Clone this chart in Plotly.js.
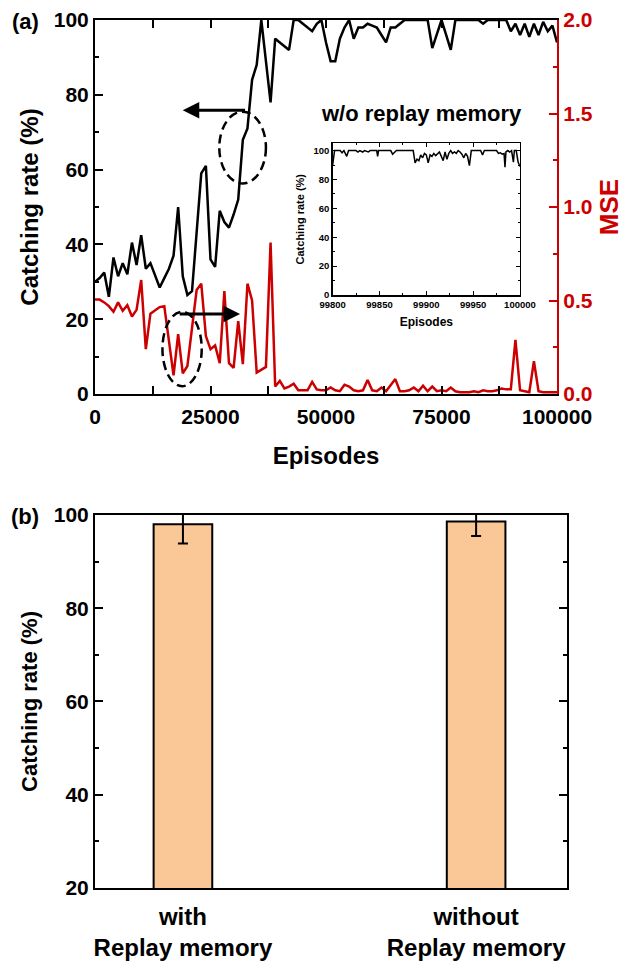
<!DOCTYPE html>
<html><head><meta charset="utf-8">
<script src="https://cdn.plot.ly/plotly-3.0.1.min.js"></script>
<style>html,body{margin:0;padding:0;background:#fff}#chart{width:627px;height:962px}</style>
</head><body><div id="chart"></div>
<script>
const episodes = [0,1000,2000,3000,4000,5000,6000,7000,8000,9000,10000,11000,12000,13000,14000,15000,16000,17000,18000,19000,20000,21000,22000,23000,24000,25000,26000,27000,28000,29000,30000,31000,32000,33000,34000,35000,36000,37000,38000,39000,40000,41000,42000,43000,44000,45000,46000,47000,48000,49000,50000,51000,52000,53000,54000,55000,56000,57000,58000,59000,60000,61000,62000,63000,64000,65000,66000,67000,68000,69000,70000,71000,72000,73000,74000,75000,76000,77000,78000,79000,80000,81000,82000,83000,84000,85000,86000,87000,88000,89000,90000,91000,92000,93000,94000,95000,96000,97000,98000,99000,100000];
const catchingRate = [30,31,32.5,26,36.5,31.5,35,32,40.5,34.5,42.5,33.5,35,31.5,28.5,31,33.5,37,50,31.5,26.5,27.5,43,59,61,36,34,49,46,44.5,48,52,68,71,84,88,100,89,78,95,94,93,92,100,100,99,98,97,99,100,94,89,89,95,98,100,95,98,98,99,98.5,98,96,94,98,98,99,100,100,100,100,100,100,92.5,96,100,96,92,100,100,100,100,100,100,99,100,100,100,100,100,97,99,96,99,95.5,99,96,99.5,97,98.5,94];
const mse = [0.505,0.505,0.49,0.47,0.44,0.49,0.445,0.475,0.415,0.45,0.61,0.24,0.43,0.45,0.465,0.47,0.29,0.10,0.32,0.11,0.15,0.35,0.556,0.59,0.31,0.24,0.26,0.165,0.55,0.165,0.14,0.39,0.16,0.59,0.50,0.115,0.13,0.145,0.81,0.04,0.07,0.03,0.04,0.055,0.02,0.02,0.02,0.065,0.025,0.02,0.02,0.035,0.02,0.015,0.05,0.04,0.02,0.015,0.02,0.075,0.02,0.015,0.035,0.015,0.05,0.08,0.015,0.015,0.02,0.035,0.015,0.045,0.015,0.04,0.015,0.02,0.015,0.035,0.015,0.01,0.01,0.01,0.015,0.01,0.02,0.015,0.015,0.02,0.03,0.025,0.025,0.29,0.02,0.015,0.01,0.175,0.015,0.01,0.01,0.01,0.01];

const insetEpisodes = [99800,99802,99808,99810,99812,99815,99817,99825,99827,99829,99832,99834,99838,99840,99847,99848,99849,99862,99864,99866,99868,99886,99888,99890,99892,99894,99896,99898,99900,99902,99904,99906,99908,99910,99912,99914,99916,99918,99920,99922,99924,99926,99928,99930,99932,99934,99936,99938,99940,99942,99944,99946,99948,99958,99960,99962,99975,99977,99979,99981,99983,99984,99985,99987,99989,99991,99993,99994,99996,99998,100000];
const insetRate = [90,100,100,98.5,100,96,100,100,99,100,99,100,99,100,100,96,100,100,97.5,98.5,100,100,91.5,94,93,97,95,98,97,91.5,97,96,98,96.5,97.5,99,96,93,99,94,98,100,98,99,98,100,99,97.5,95,98,96,89.5,100,100,97,100,100,98,98.5,97.5,98,88.5,99,100,99,100,92,100,100,92,89];

const barCategories = ['with<br>Replay memory','without<br>Replay memory'];
const barValues = [98.0, 98.6];
const barErrors = [4.1, 3.1];

const RED = '#cc0000';
const FONT = 'Liberation Sans, Arial, sans-serif';
const bold = (size, color) => ({family: FONT, size: size, color: color || '#000', weight: 'bold'});

const traces = [
  {x: episodes, y: catchingRate, type: 'scatter', mode: 'lines', xaxis: 'x', yaxis: 'y',
   line: {color: '#000', width: 2.5}, showlegend: false},
  {x: episodes, y: mse, type: 'scatter', mode: 'lines', xaxis: 'x', yaxis: 'y2',
   line: {color: RED, width: 2.5}, showlegend: false},
  {x: insetEpisodes, y: insetRate, type: 'scatter', mode: 'lines', xaxis: 'x3', yaxis: 'y3',
   line: {color: '#000', width: 1.5}, showlegend: false},
  {x: barCategories, y: barValues, type: 'bar', xaxis: 'x4', yaxis: 'y4', width: 0.2,
   marker: {color: '#fac897', line: {color: '#000', width: 2}},
   error_y: {type: 'data', array: barErrors, visible: true, color: '#000', thickness: 2, width: 5},
   showlegend: false}
];

const common = {showgrid: false, zeroline: false, showline: true, linecolor: '#000', linewidth: 2,
  ticks: 'inside', tickwidth: 2, tickcolor: '#000'};

const layout = {
  width: 627, height: 962,
  margin: {l: 0, r: 0, t: 0, b: 0},
  paper_bgcolor: '#fff', plot_bgcolor: 'rgba(0,0,0,0)',
  font: {family: FONT},
  xaxis: Object.assign({}, common, {
    domain: [0.1515, 0.8884], anchor: 'y', range: [0, 100000],
    tickvals: [0, 25000, 50000, 75000, 100000], tickformat: 'd', ticklen: 8,
    minor: {dtick: 12500, tick0: 0, ticks: 'inside', ticklen: 4, tickwidth: 2, tickcolor: '#000'},
    mirror: 'allticks', tickfont: bold(21), ticklabelstandoff: 3,
    title: {text: 'Episodes', font: bold(24), standoff: 20}
  }),
  yaxis: Object.assign({}, common, {
    domain: [0.5904, 0.9792], anchor: 'x', range: [0, 100], dtick: 20, ticklen: 8,
    minor: {dtick: 10, ticks: 'inside', ticklen: 4, tickwidth: 2, tickcolor: '#000'},
    tickfont: bold(21),
    title: {text: 'Catching rate (%)', font: bold(24), standoff: 8}
  }),
  yaxis2: Object.assign({}, common, {
    overlaying: 'y', side: 'right', anchor: 'x', range: [0, 2], dtick: 0.5, tickformat: '.1f',
    linecolor: RED, tickcolor: RED, ticklen: 8,
    minor: {dtick: 0.25, ticks: 'inside', ticklen: 4, tickwidth: 2, tickcolor: RED},
    tickfont: bold(21, RED),
    title: {text: 'MSE', font: bold(26, RED), standoff: 8}
  }),
  xaxis3: Object.assign({}, common, {
    domain: [0.5306, 0.8293], anchor: 'y3', range: [99800, 100000], linewidth: 1.5, tickwidth: 1.2,
    tickvals: [99800, 99850, 99900, 99950, 100000], tickformat: 'd', ticklen: 4,
    minor: {dtick: 25, tick0: 99800, ticks: 'inside', ticklen: 2, tickwidth: 1, tickcolor: '#000'},
    mirror: 'allticks', tickfont: bold(9.5),
    title: {text: 'Episodes', font: bold(12), standoff: 8}
  }),
  yaxis3: Object.assign({}, common, {
    domain: [0.6933, 0.8510], anchor: 'x3', range: [0, 105], linewidth: 1.5, tickwidth: 1.2,
    tickvals: [0, 20, 40, 60, 80, 100], ticklen: 4,
    minor: {dtick: 10, ticks: 'inside', ticklen: 2, tickwidth: 1, tickcolor: '#000'},
    mirror: 'allticks', tickfont: bold(9.5),
    title: {text: 'Catching rate (%)', font: bold(11), standoff: 6}
  }),
  xaxis4: Object.assign({}, common, {
    domain: [0.1515, 0.9043], anchor: 'y4', type: 'category', range: [-0.3, 1.31],
    ticks: '', mirror: true, tickfont: bold(24), ticklabelstandoff: 6
  }),
  yaxis4: Object.assign({}, common, {
    domain: [0.0769, 0.4647], anchor: 'x4', range: [20, 100], dtick: 20, ticklen: 8,
    minor: {dtick: 10, ticks: 'inside', ticklen: 4, tickwidth: 2, tickcolor: '#000'},
    mirror: 'allticks', tickfont: bold(21),
    title: {text: 'Catching rate (%)', font: bold(22), standoff: 10}
  }),
  shapes: [
    {type: 'circle', xref: 'x', yref: 'y', x0: 26900, x1: 37000, y0: 56.3, y1: 75.5,
     line: {color: '#000', width: 2.5, dash: '9px,5px'}},
    {type: 'circle', xref: 'x', yref: 'y', x0: 14600, x1: 23100, y0: 2.1, y1: 22.0,
     line: {color: '#000', width: 2.5, dash: '9px,5px'}}
  ],
  annotations: [
    {text: '(a)', xref: 'paper', yref: 'paper', x: 0.04, y: 0.978, xanchor: 'center', yanchor: 'middle', showarrow: false, font: bold(22)},
    {text: '(b)', xref: 'paper', yref: 'paper', x: 0.04, y: 0.4636, xanchor: 'center', yanchor: 'middle', showarrow: false, font: bold(22)},
    {text: 'w/o replay memory', xref: 'paper', yref: 'paper', x: 0.6715, y: 0.8825, xanchor: 'center', yanchor: 'middle', showarrow: false, font: bold(22)},
    {text: '', xref: 'x', yref: 'y', x: 19000, y: 75.9, axref: 'x', ayref: 'y', ax: 32800, ay: 75.9,
     showarrow: true, arrowhead: 2, arrowsize: 1.1, arrowwidth: 3, arrowcolor: '#000'},
    {text: '', xref: 'x', yref: 'y', x: 31400, y: 21.4, axref: 'x', ayref: 'y', ax: 18000, ay: 21.4,
     showarrow: true, arrowhead: 2, arrowsize: 1.1, arrowwidth: 3, arrowcolor: '#000'}
  ]
};

Plotly.newPlot('chart', traces, layout, {staticPlot: true, displayModeBar: false});
</script>
</body></html>
